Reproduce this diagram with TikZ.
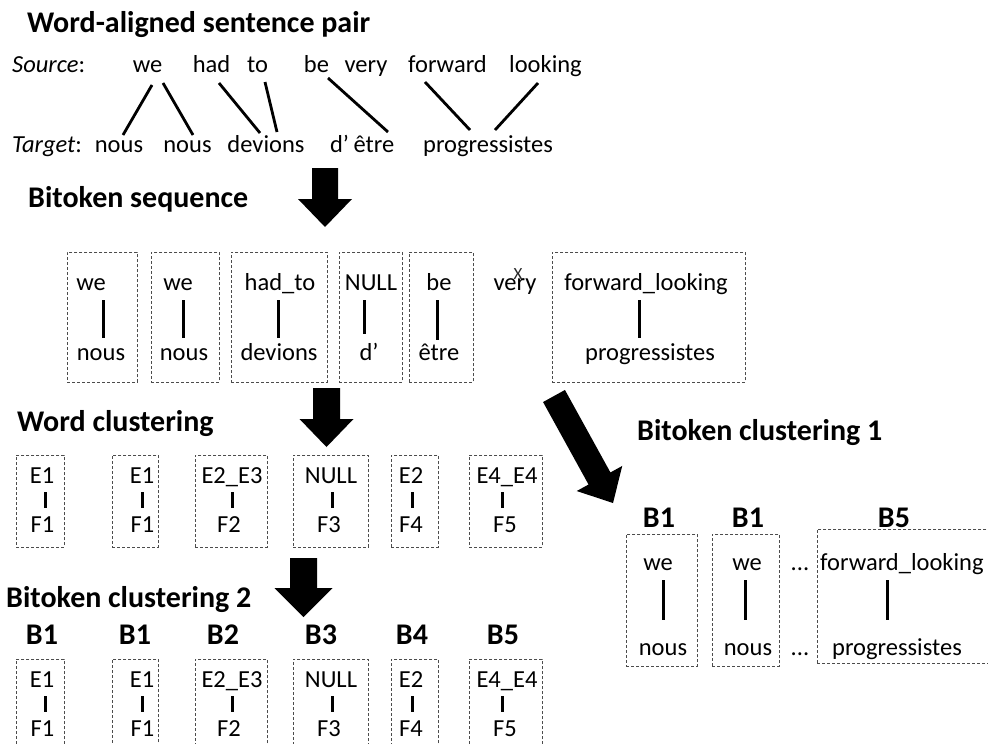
\documentclass[tikz,border=0pt]{standalone}
\usepackage{fontspec}
\setmainfont{Carlito}
\usetikzlibrary{calc}
\tikzset{
  txt/.style={font=\fontsize{24.5}{29}\selectfont, inner sep=0pt, anchor=base, text=black},
  ttl/.style={font=\fontsize{30}{36}\selectfont\bfseries, inner sep=0pt, anchor=base west, text=black},
  blab/.style={font=\fontsize{30}{36}\selectfont\bfseries, inner sep=0pt, anchor=base, text=black},
  dbox/.style={draw=black!70, dash pattern=on 3pt off 2pt, line width=0.9pt, inner sep=0pt, anchor=north west},
  barln/.style={line width=3pt, black},
  aline/.style={line width=2.8pt, black},
}
\newcommand\dbx[5]{\node[dbox, minimum width=#4pt, minimum height=#5pt] (#1) at (#2,#3) {};}
\newcommand\blockarrow[5]{%
  \coordinate (#1h) at ($(#2)!#5!(#1)$);
  \fill[black] ($(#1)!#3!90:(#2)$) -- ($(#1h)!#3!90:(#2)$) -- ($(#1h)!#4!90:(#2)$) -- (#2)
    -- ($(#1h)!#4!-90:(#2)$) -- ($(#1h)!#3!-90:(#2)$) -- ($(#1)!#3!-90:(#2)$) -- cycle;}
\begin{document}
\begin{tikzpicture}[x=1pt, y=-1pt]
\path[use as bounding box] (0,0) rectangle (988,744);
\clip (0,0) rectangle (988,744);

% ---------- Word-aligned sentence pair ----------
\node[ttl] (t1) at (27,32) {Word-aligned sentence pair};
\node[txt, anchor=base west] (srcl) at (12,72) {\itshape Source\upshape:};
\node[txt] (we) at (147.5,72) {we};
\node[txt] (had) at (211.5,72) {had};
\node[txt] (to) at (257.5,72) {to};
\node[txt] (be) at (316.5,72) {be};
\node[txt] (very) at (366,72) {very};
\node[txt] (fwd) at (447.5,72) {forward};
\node[txt] (look) at (545.5,72) {looking};

\node[txt, anchor=base west] (tgtl) at (12,152) {\itshape Target\upshape:};
\node[txt] (nous1) at (119,152) {nous};
\node[txt] (nous2) at (187.5,152) {nous};
\node[txt] (dev) at (266,152) {devions};
\node[txt] (dap) at (339.5,152) {d’};
\node[txt] (etre) at (374,152) {être};
\node[txt] (prog) at (488,152) {progressistes};

\draw[aline] ([shift={(4.5,13)}]we.base) -- ([shift={(4,-17)}]nous1.base);
\draw[aline] ([shift={(15.5,11)}]we.base) -- ([shift={(5.5,-17)}]nous2.base);
\draw[aline] ([shift={(7.5,11)}]had.base) -- ([shift={(-6,-19)}]dev.base);
\draw[aline] ([shift={(7.5,10)}]to.base) -- ([shift={(11,-20)}]dev.base);
\draw[aline] ([shift={(11.5,6)}]be.base) -- ([shift={(14,-20)}]etre.base);
\draw[aline] ([shift={(-22.5,10)}]fwd.base) -- ([shift={(-18,-22)}]prog.base);
\draw[aline] ([shift={(-7.5,11)}]look.base) -- ([shift={(7,-22)}]prog.base);

% ---------- arrows ----------
\coordinate (a1s) at (325,168); \coordinate (a1e) at (325,227);
\blockarrow{a1s}{a1e}{13pt}{27pt}{28pt}
\coordinate (a2s) at (326.5,388); \coordinate (a2e) at (326.5,447);
\blockarrow{a2s}{a2e}{13.5pt}{27pt}{28pt}
\coordinate (a3s) at (303.5,558); \coordinate (a3e) at (303.5,617);
\blockarrow{a3s}{a3e}{13.5pt}{29pt}{29pt}
\coordinate (a4s) at (554,396); \coordinate (a4e) at (613,503);
\blockarrow{a4s}{a4e}{12.5pt}{26pt}{28pt}

% ---------- Bitoken sequence ----------
\node[ttl] (t2) at (28,207) {Bitoken sequence};
\dbx{s1}{67}{252}{70}{130}
\dbx{s2}{151}{252}{68}{130}
\dbx{s3}{231}{252}{96}{130}
\dbx{s4}{339}{252}{63}{130}
\dbx{s5}{409}{252}{64}{130}
\dbx{s6}{552}{252}{193}{130}

\node[txt] (s1t) at (91,290) {we};      \node[txt] (s1b) at (101,360) {nous};
\node[txt] (s2t) at (178,290) {we};     \node[txt] (s2b) at (184,360) {nous};
\node[txt] (s3t) at (280,290) {had\_to};\node[txt] (s3b) at (279,360) {devions};
\node[txt] (s4t) at (371,290) {NULL};   \node[txt] (s4b) at (369,360) {d’};
\node[txt] (s5t) at (439,290) {be};     \node[txt] (s5b) at (439,360) {être};
\node[txt] (s6t) at (646,290) {forward\_looking}; \node[txt] (s6b) at (650,360) {progressistes};
\node[txt] (vry) at (515,290) {very};
\node[font=\fontsize{17}{17}\selectfont, inner sep=0pt, text=black!85] (xm) at (518,274) {X};

\draw[barln] ([shift={(12,10)}]s1t.base) -- ([shift={(2,-22)}]s1b.base);
\draw[barln] ([shift={(5,10)}]s2t.base) -- ([shift={(-1,-22)}]s2b.base);
\draw[barln] ([shift={(-2,10)}]s3t.base) -- ([shift={(-1,-22)}]s3b.base);
\draw[barln] ([shift={(-7,10)}]s4t.base) -- ([shift={(-5,-26)}]s4b.base);
\draw[barln] ([shift={(-2,10)}]s5t.base) -- ([shift={(-2,-20)}]s5b.base);
\draw[barln] ([shift={(-7,10)}]s6t.base) -- ([shift={(-11,-22)}]s6b.base);

% ---------- Word clustering ----------
\node[ttl] (t3) at (17,431) {Word clustering};
\dbx{w1}{16}{455}{48}{92}
\dbx{w2}{112}{455}{46}{92}
\dbx{w3}{195}{455}{72}{92}
\dbx{w4}{293}{455}{75}{92}
\dbx{w5}{391}{455}{47}{92}
\dbx{w6}{469}{455}{73}{92}

\node[txt] (w1t) at (42,483) {E1};     \node[txt] (w1b) at (42.5,532) {F1};
\node[txt] (w2t) at (142,483) {E1};    \node[txt] (w2b) at (142.5,532) {F1};
\node[txt] (w3t) at (232,483) {E2\_E3};\node[txt] (w3b) at (229,532) {F2};
\node[txt] (w4t) at (331,483) {NULL};  \node[txt] (w4b) at (329,532) {F3};
\node[txt] (w5t) at (411,483) {E2};    \node[txt] (w5b) at (411,532) {F4};
\node[txt] (w6t) at (507,483) {E4\_E4};\node[txt] (w6b) at (505,532) {F5};

\draw[barln] ([shift={(3,9)}]w1t.base) -- ([shift={(2.5,-24)}]w1b.base);
\draw[barln] ([shift={(0,9)}]w2t.base) -- ([shift={(-0.5,-24)}]w2b.base);
\draw[barln] ([shift={(0,9)}]w3t.base) -- ([shift={(3,-24)}]w3b.base);
\draw[barln] ([shift={(1,9)}]w4t.base) -- ([shift={(3,-24)}]w4b.base);
\draw[barln] ([shift={(1,9)}]w5t.base) -- ([shift={(1,-24)}]w5b.base);
\draw[barln] ([shift={(-5,9)}]w6t.base) -- ([shift={(-3,-24)}]w6b.base);

% ---------- Bitoken clustering 2 ----------
\node[ttl] (t4) at (6,607) {Bitoken clustering 2};
\node[blab] (l1) at (42,644) {B1};
\node[blab] (l2) at (135,644) {B1};
\node[blab] (l3) at (223,644) {B2};
\node[blab] (l4) at (321,644) {B3};
\node[blab] (l5) at (412,644) {B4};
\node[blab] (l6) at (503,644) {B5};
\dbx{v1}{16}{659}{48}{92}
\dbx{v2}{112}{659}{46}{92}
\dbx{v3}{195}{659}{72}{92}
\dbx{v4}{293}{659}{75}{92}
\dbx{v5}{391}{659}{47}{92}
\dbx{v6}{469}{659}{73}{92}

\node[txt] (v1t) at (42,687) {E1};     \node[txt] (v1b) at (42.5,736) {F1};
\node[txt] (v2t) at (142,687) {E1};    \node[txt] (v2b) at (142.5,736) {F1};
\node[txt] (v3t) at (232,687) {E2\_E3};\node[txt] (v3b) at (229,736) {F2};
\node[txt] (v4t) at (331,687) {NULL};  \node[txt] (v4b) at (329,736) {F3};
\node[txt] (v5t) at (411,687) {E2};    \node[txt] (v5b) at (411,736) {F4};
\node[txt] (v6t) at (507,687) {E4\_E4};\node[txt] (v6b) at (505,736) {F5};

\draw[barln] ([shift={(3,9)}]v1t.base) -- ([shift={(2.5,-24)}]v1b.base);
\draw[barln] ([shift={(0,9)}]v2t.base) -- ([shift={(-0.5,-24)}]v2b.base);
\draw[barln] ([shift={(0,9)}]v3t.base) -- ([shift={(3,-24)}]v3b.base);
\draw[barln] ([shift={(1,9)}]v4t.base) -- ([shift={(3,-24)}]v4b.base);
\draw[barln] ([shift={(1,9)}]v5t.base) -- ([shift={(1,-24)}]v5b.base);
\draw[barln] ([shift={(-5,9)}]v6t.base) -- ([shift={(-3,-24)}]v6b.base);

% ---------- Bitoken clustering 1 ----------
\node[ttl] (t5) at (637,440) {Bitoken clustering 1};
\node[blab] (k1) at (659,527) {B1};
\node[blab] (k2) at (748,527) {B1};
\node[blab] (k3) at (894,527) {B5};
\dbx{c1}{626}{534}{71}{132}
\dbx{c2}{712}{534}{67}{132}
\dbx{c3}{817}{529}{200}{134}

\node[txt] (c1t) at (658,570) {we};  \node[txt] (c1b) at (663,655) {nous};
\node[txt] (c2t) at (747,570) {we};  \node[txt] (c2b) at (748,655) {nous};
\node[txt, anchor=base west] (c3t) at (820,570) {forward\_looking};
\node[txt] (c3b) at (897,655) {progressistes};
\node[txt] (d1) at (800,570) {...};
\node[txt] (d2) at (800,655) {...};

\draw[barln] ([shift={(5,10)}]c1t.base) -- ([shift={(0,-35)}]c1b.base);
\draw[barln] ([shift={(-2,10)}]c2t.base) -- ([shift={(-3,-35)}]c2b.base);
\draw[barln] ([shift={(887-820,10)}]c3t.base west) -- ([shift={(-10,-35)}]c3b.base);
\end{tikzpicture}
\end{document}
